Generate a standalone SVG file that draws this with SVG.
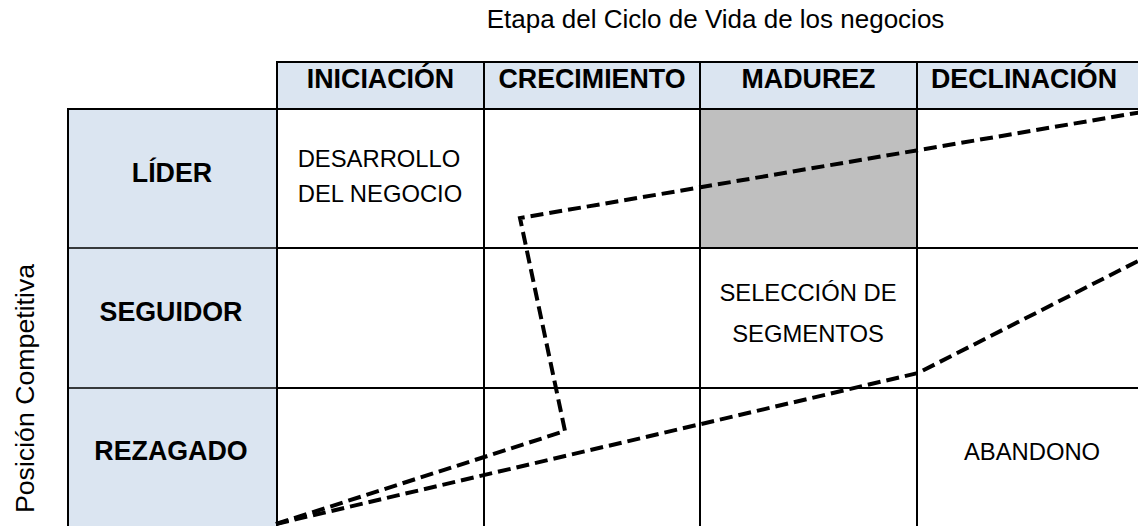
<svg xmlns="http://www.w3.org/2000/svg" width="1138" height="526" viewBox="0 0 1138 526">
<style>
.hd{fill:#dbe5f1}
.gr{fill:#bfbfbf}
.ln{stroke:#000;stroke-width:2;fill:none}
.tn{stroke:#000;stroke-width:1.3;fill:none}
.b{font-family:"Liberation Sans",Arial,sans-serif;font-weight:bold;font-size:26.8px;fill:#000;text-anchor:middle}
.r{font-family:"Liberation Sans",Arial,sans-serif;font-size:23.8px;fill:#000;text-anchor:middle}
.t{font-family:"Liberation Sans",Arial,sans-serif;font-size:26px;fill:#000;text-anchor:middle}
.dash{stroke:#000;stroke-width:4;fill:none;stroke-dasharray:13 6;stroke-linejoin:miter}
</style>
<rect width="1138" height="526" fill="#fff"/>
<text class="t" x="715.5" y="28">Etapa del Ciclo de Vida de los negocios</text>
<text class="t" transform="translate(34,388.5) rotate(-90)" style="font-size:26.7px">Posición Competitiva</text>
<g id="header">
<rect class="hd" x="277" y="62" width="861" height="47"/>
<g id="h-iniciacion"><text class="b" x="380.5" y="88">INICIACIÓN</text></g>
<g id="h-crecimiento"><text class="b" x="592" y="88">CRECIMIENTO</text></g>
<g id="h-madurez"><text class="b" x="808.5" y="88">MADUREZ</text></g>
<g id="h-declinacion"><text class="b" x="1024" y="88">DECLINACIÓN</text></g>
</g>
<g id="rows">
<rect class="hd" x="68" y="109" width="209" height="417"/>
<g id="r-lider"><text class="b" x="172" y="182">LÍDER</text></g>
<g id="r-seguidor"><text class="b" x="171" y="321">SEGUIDOR</text></g>
<g id="r-rezagado"><text class="b" x="171" y="460">REZAGADO</text></g>
</g>
<g id="cells">
<rect class="gr" x="700" y="109" width="217" height="139"/>
<g id="c-desarrollo"><text class="r" x="379" y="167">DESARROLLO</text><text class="r" x="380" y="202">DEL NEGOCIO</text></g>
<g id="c-seleccion"><text class="r" x="808" y="301">SELECCIÓN DE</text><text class="r" x="808" y="342">SEGMENTOS</text></g>
<g id="c-abandono"><text class="r" x="1032" y="460">ABANDONO</text></g>
</g>
<g id="grid">
<path class="ln" d="M277 62H1140M277 109H1140M68 109H277M277 248H1140M277 388H1140"/>
<path class="tn" d="M68 248H277M68 388H277"/>
<path class="ln" d="M68 108V526M277 61V526M484 62V526M700 62V526M917 62V526"/>
</g>
<g id="connectors">
<polyline class="dash" points="276,524 565,431 520,218 1142,112"/>
<polyline class="dash" points="276,524 918,373 1142,259"/>
</g>
</svg>
